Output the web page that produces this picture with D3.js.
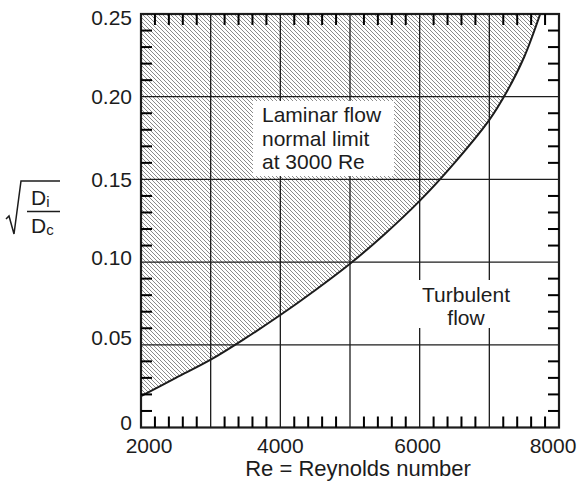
<!DOCTYPE html>
<html>
<head>
<meta charset="utf-8">
<script src="https://cdn.jsdelivr.net/npm/d3@7"></script>
<style>
  html, body { margin: 0; padding: 0; background: #fff; }
  svg { display: block; font-family: "Liberation Sans", Arial, Helvetica, sans-serif; }
</style>
</head>
<body>
<svg id="chart" width="582" height="484"></svg>
<script>
// Laminar / turbulent boundary for flow in a helical coil
const reynolds = [2000, 2500, 3000, 3500, 4000, 4500, 5000, 5500, 6000, 6500, 7000, 7250, 7500, 7730];
const diameterRatio = [0.019, 0.030, 0.041, 0.054, 0.068, 0.083, 0.099, 0.117, 0.137, 0.160, 0.186, 0.203, 0.224, 0.25];

const xTickValues = [2000, 4000, 6000, 8000];
const xTickLabels = ["2000", "4000", "6000", "8000"];
const xGridValues = [3000, 4000, 5000, 6000, 7000];
const yTickValues = [0, 0.05, 0.10, 0.15, 0.20, 0.25];
const yTickLabels = ["0", "0.05", "0.10", "0.15", "0.20", "0.25"];
const yGridValues = [0.05, 0.10, 0.15, 0.20];

const laminarLines = ["Laminar flow", "normal limit", "at 3000 Re"];
const turbulentLines = ["Turbulent", "flow"];
const xTitle = "Re = Reynolds number";

const svg = d3.select("#chart");
const ink = "#1c1c1c";

const x = d3.scaleLinear().domain([2000, 8000]).range([141, 559]);
const y = d3.scaleLinear().domain([0, 0.25]).range([427.5, 14]);

// diagonal hatching for the laminar region
const defs = svg.append("defs");
defs.append("pattern")
  .attr("id", "hatch")
  .attr("patternUnits", "userSpaceOnUse")
  .attr("width", 4).attr("height", 4)
  .append("path")
  .attr("d", "M-1,-1 L5,5 M-1,3 L1,5 M3,-1 L5,1")
  .attr("stroke", "#8a8a8a")
  .attr("stroke-width", 1);

const pts = reynolds.map((r, i) => [r, diameterRatio[i]]);

const area = d3.area()
  .x(d => x(d[0]))
  .y0(y(0.25))
  .y1(d => y(d[1]))
  .curve(d3.curveCatmullRom);

svg.append("path")
  .datum(pts)
  .attr("d", area)
  .attr("fill", "url(#hatch)");

// grid
const grid = svg.append("g").attr("stroke", ink).attr("stroke-width", 1.3);
grid.selectAll("line.v").data(xGridValues).join("line")
  .attr("class", "v")
  .attr("x1", d => x(d)).attr("x2", d => x(d))
  .attr("y1", y(0)).attr("y2", y(0.25));
grid.selectAll("line.h").data(yGridValues).join("line")
  .attr("class", "h")
  .attr("x1", x(2000)).attr("x2", x(8000))
  .attr("y1", d => y(d)).attr("y2", d => y(d));

// label backgrounds
svg.append("rect")
  .attr("x", 253).attr("y", 101).attr("width", 141).attr("height", 75)
  .attr("fill", "#fff");
svg.append("rect")
  .attr("x", 416).attr("y", 280).attr("width", 100).attr("height", 48)
  .attr("fill", "#fff");

// boundary curve
svg.append("path")
  .datum(pts)
  .attr("d", d3.line().x(d => x(d[0])).y(d => y(d[1])).curve(d3.curveCatmullRom))
  .attr("fill", "none")
  .attr("stroke", ink)
  .attr("stroke-width", 2);

// frame
svg.append("rect")
  .attr("x", x(2000)).attr("y", y(0.25))
  .attr("width", x(8000) - x(2000)).attr("height", y(0) - y(0.25))
  .attr("fill", "none").attr("stroke", ink).attr("stroke-width", 2.2);

// tick labels
const xLabelShift = [8, 0, -2, -6];
svg.append("g").selectAll("text").data(xTickValues).join("text")
  .attr("x", (d, i) => x(d) + xLabelShift[i])
  .attr("y", 453)
  .attr("text-anchor", "middle")
  .attr("font-size", 21)
  .attr("fill", ink)
  .text((d, i) => xTickLabels[i]);

const yLabelNudge = [2.5, 0.5, 2.5, 8, 7.5, 11];
svg.append("g").selectAll("text").data(yTickValues).join("text")
  .attr("x", 132)
  .attr("y", (d, i) => y(d) + yLabelNudge[i])
  .attr("text-anchor", "end")
  .attr("font-size", 21)
  .attr("fill", ink)
  .text((d, i) => yTickLabels[i]);

// x axis title
svg.append("text")
  .attr("x", 358).attr("y", 476)
  .attr("text-anchor", "middle")
  .attr("font-size", 22)
  .attr("fill", ink)
  .text(xTitle);

// y axis title: sqrt(Di / Dc)
const yl = svg.append("g").attr("fill", ink);
yl.append("path")
  .attr("d", "M6,219 L9,216 L14,234 L21,181 L60,181")
  .attr("fill", "none").attr("stroke", ink).attr("stroke-width", 1.5);
yl.append("line")
  .attr("x1", 27).attr("x2", 60).attr("y1", 211.5).attr("y2", 211.5)
  .attr("stroke", ink).attr("stroke-width", 1.5);
const num = yl.append("text").attr("x", 31).attr("y", 205).attr("font-size", 21);
num.append("tspan").text("D");
num.append("tspan").attr("font-size", 15).attr("dy", 2).text("i");
const den = yl.append("text").attr("x", 31).attr("y", 233).attr("font-size", 21);
den.append("tspan").text("D");
den.append("tspan").attr("font-size", 15).attr("dy", 2).text("c");

// in-plot annotations
svg.append("g").selectAll("text").data(laminarLines).join("text")
  .attr("x", 262).attr("y", (d, i) => 122 + i * 23.5)
  .attr("font-size", 21).attr("fill", ink)
  .text(d => d);

svg.append("g").selectAll("text").data(turbulentLines).join("text")
  .attr("x", 466).attr("y", (d, i) => 302 + i * 23)
  .attr("text-anchor", "middle")
  .attr("font-size", 21).attr("fill", ink)
  .text(d => d);

// inward minor ticks on all four sides: every 200 Re and every 0.01
const minorX = [];
for (let k = 1; k < 30; k++) {
  if (k % 5 !== 0) minorX.push(2000 + k * 200);
}
const minorY = [];
for (let k = 1; k < 25; k++) {
  if (k % 5 !== 0) minorY.push(k / 100);
}
const tickLen = 11;
const tickW = 2;
const tickLayer = svg.append("g").attr("fill", "#000");
minorX.forEach(v => {
  tickLayer.append("rect")
    .attr("x", x(v) - tickW / 2).attr("width", tickW)
    .attr("y", y(0) - tickLen).attr("height", tickLen);
  tickLayer.append("rect")
    .attr("x", x(v) - tickW / 2).attr("width", tickW)
    .attr("y", y(0.25)).attr("height", tickLen);
});
minorY.forEach(v => {
  tickLayer.append("rect")
    .attr("x", x(2000)).attr("width", tickLen)
    .attr("y", y(v) - tickW / 2).attr("height", tickW);
  tickLayer.append("rect")
    .attr("x", x(8000) - tickLen).attr("width", tickLen)
    .attr("y", y(v) - tickW / 2).attr("height", tickW);
});
</script>
</body>
</html>
